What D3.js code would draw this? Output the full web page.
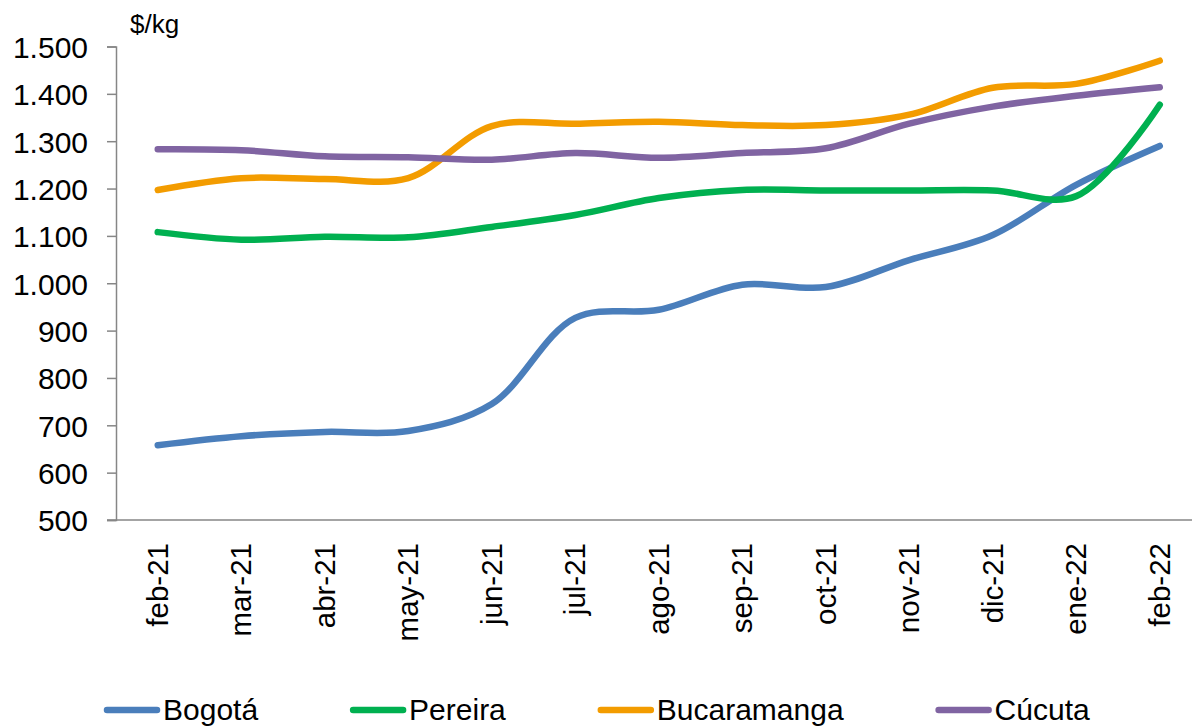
<!DOCTYPE html>
<html>
<head>
<meta charset="utf-8">
<script src="https://cdn.jsdelivr.net/npm/d3@7"></script>
<style>
  body { margin: 0; background: #fff; }
  text { font-family: "Liberation Sans", Arial, sans-serif; fill: #000; }
</style>
</head>
<body>
<div id="chart"></div>
<script>
// data
var months = ["feb-21","mar-21","abr-21","may-21","jun-21","jul-21","ago-21","sep-21","oct-21","nov-21","dic-21","ene-22","feb-22"];
var bogota      = [658, 677, 686, 688, 745, 927, 944, 997, 992, 1049, 1102, 1208, 1290];
var pereira     = [1108, 1092, 1098, 1097, 1119, 1144, 1180, 1197, 1196, 1196, 1196, 1184, 1377];
var bucaramanga = [1197, 1222, 1220, 1222, 1332, 1337, 1341, 1334, 1334, 1356, 1413, 1421, 1470];
var cucuta      = [1283, 1281, 1268, 1266, 1261, 1275, 1265, 1275, 1285, 1337, 1373, 1396, 1414];
var yTicks = [500, 600, 700, 800, 900, 1000, 1100, 1200, 1300, 1400, 1500];

var series = [
  {name: "Bogotá", values: bogota, color: "#4a7ebb"},
  {name: "Pereira", values: pereira, color: "#00b050"},
  {name: "Bucaramanga", values: bucaramanga, color: "#f39c00"},
  {name: "Cúcuta", values: cucuta, color: "#8064a2"}
];

var width = 1192, height = 728;
var mLeft = 116, mTop = 46.5, mBottom = 520;

var svg = d3.select("#chart").append("svg")
    .attr("width", width)
    .attr("height", height);

var x = d3.scaleBand()
    .domain(months)
    .range([mLeft, mLeft + 13 * 83.5]);

var y = d3.scaleLinear()
    .domain([500, 1500])
    .range([mBottom, mTop]);

var fmt = d3.formatLocale({decimal: ",", thousands: ".", grouping: [3], currency: ["$", ""]}).format(",");

// y axis
var yAxis = svg.append("g")
    .attr("transform", "translate(" + mLeft + ",0)")
    .call(d3.axisLeft(y).tickValues(yTicks).tickSize(9).tickPadding(19).tickFormat(fmt));
yAxis.select(".domain").attr("stroke", "#868686").attr("stroke-width", 1.5);
yAxis.selectAll(".tick line").attr("stroke", "#868686").attr("stroke-width", 1.5);
yAxis.selectAll("text").attr("font-family", null).attr("font-size", null)
    .style("font-size", "30px").attr("dy", "0.36em");

// x axis (no tick marks)
svg.append("line")
    .attr("x1", 107).attr("x2", width)
    .attr("y1", y(500)).attr("y2", y(500))
    .attr("stroke", "#868686").attr("stroke-width", 1.5);

svg.append("g").selectAll("text")
  .data(months)
  .enter().append("text")
    .attr("transform", function(d) { return "translate(" + (x(d) + x.bandwidth() / 2 + 10) + "," + 543 + ") rotate(-90)"; })
    .attr("text-anchor", "end")
    .style("font-size", "29.5px")
    .text(function(d) { return d; });

// unit label
svg.append("text")
    .attr("x", 130).attr("y", 33)
    .style("font-size", "26px")
    .text("$/kg");

// lines
var line = d3.line()
    .x(function(d, i) { return x(months[i]) + x.bandwidth() / 2; })
    .y(function(d) { return y(d); })
    .curve(d3.curveCatmullRom.alpha(0.5));

svg.append("g").selectAll("path")
  .data(series)
  .enter().append("path")
    .attr("fill", "none")
    .attr("stroke", function(d) { return d.color; })
    .attr("stroke-width", 6.5)
    .attr("stroke-linecap", "round")
    .attr("d", function(d) { return line(d.values); });

// legend
var legend = svg.append("g");
var lx = 104, ly = 710;
series.forEach(function(s) {
  legend.append("line")
    .attr("x1", lx + 3).attr("x2", lx + 53)
    .attr("y1", ly).attr("y2", ly)
    .attr("stroke", s.color).attr("stroke-width", 6.5)
    .attr("stroke-linecap", "round");
  var t = legend.append("text")
    .attr("x", lx + 59).attr("y", ly + 10)
    .style("font-size", "30px")
    .text(s.name);
  lx = lx + 59 + t.node().getComputedTextLength() + 92;
});
</script>
</body>
</html>
